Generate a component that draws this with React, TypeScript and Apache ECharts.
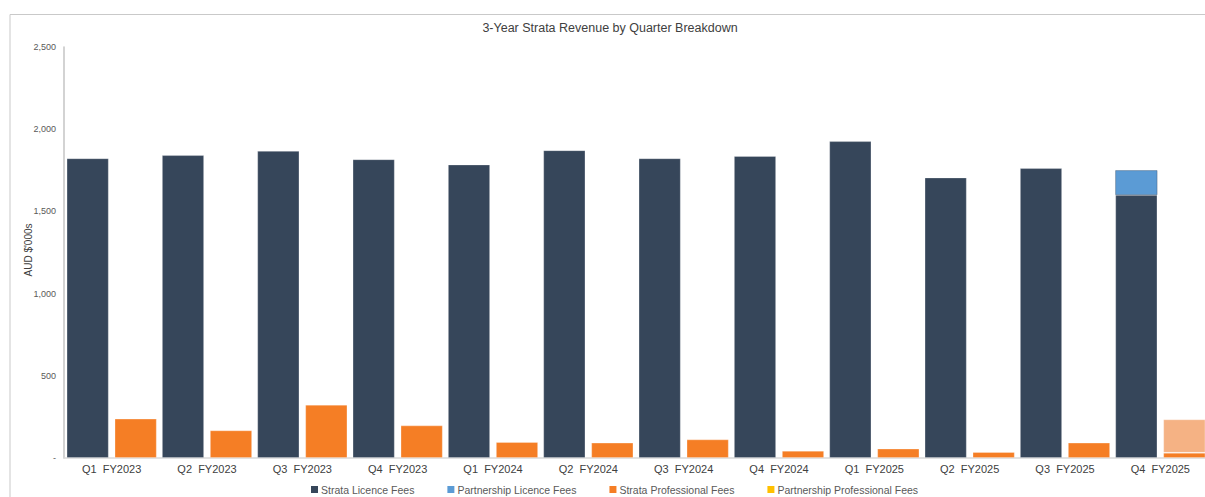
import React, { useEffect, useRef } from "react";
import * as echarts from "echarts";

const quarters = ["Q1", "Q2", "Q3", "Q4", "Q1", "Q2", "Q3", "Q4", "Q1", "Q2", "Q3", "Q4"];
const fiscalYears = ["FY2023", "FY2023", "FY2023", "FY2023", "FY2024", "FY2024", "FY2024", "FY2024", "FY2025", "FY2025", "FY2025", "FY2025"];
const categories = quarters.map((q, i) => `${q}  ${fiscalYears[i]}`);

const strataLicence = [1823, 1842, 1868, 1817, 1785, 1872, 1823, 1837, 1927, 1706, 1763, 1600];
const partnershipLicence = [null, null, null, null, null, null, null, null, null, null, null, 150];
const strataProfessional = [239, 168, 324, 198, 97, 93, 113, 44, 57, 36, 93, 32];
const partnershipProfessional = [null, null, null, null, null, null, null, null, null, null, null, 203];

const yTicks = [0, 500, 1000, 1500, 2000, 2500];

const fmt = (v: number) => (v === 0 ? "-" : v.toString().replace(/\B(?=(\d{3})+(?!\d))/g, ","));

export default function App() {
  const ref = useRef<HTMLDivElement>(null);
  useEffect(() => {
    if (!ref.current) return;
    const chart = echarts.init(ref.current, null, { renderer: "svg" });
    const border = { borderColor: "rgba(255,255,255,0.35)", borderWidth: 0.8 };
    chart.setOption({
      animation: false,
      textStyle: { fontFamily: "Liberation Sans, Arial, sans-serif" },
      graphic: [
        {
          type: "rect",
          shape: { x: 10, y: 14.5, width: 1400, height: 700 },
          style: { fill: "none", stroke: "#c9c9c9", lineWidth: 1 },
          silent: true,
        },
        {
          type: "text",
          x: 610,
          y: 28,
          style: {
            text: "3-Year Strata Revenue by Quarter Breakdown",
            fill: "#404040",
            font: "12.5px 'Liberation Sans', Arial, sans-serif",
            textAlign: "center",
            textVerticalAlign: "middle",
          },
        },
        {
          type: "text",
          x: 28,
          y: 250,
          rotation: Math.PI / 2,
          style: {
            text: "AUD $'000s",
            fill: "#404040",
            font: "10px 'Liberation Sans', Arial, sans-serif",
            textAlign: "center",
            textVerticalAlign: "middle",
          },
        },
      ],
      legend: {
        top: 484,
        left: 311,
        padding: 0,
        itemWidth: 7,
        itemHeight: 7,
        itemGap: 33,
        icon: "rect",
        itemStyle: { borderWidth: 0 },
        textStyle: { fontSize: 10.5, color: "#595959", padding: [0, 0, 0, -2] },
        data: ["Strata Licence Fees", "Partnership Licence Fees", "Strata Professional Fees", "Partnership Professional Fees"],
      },
      grid: { left: 64, top: 47, right: 32, bottom: 62 },
      xAxis: {
        type: "category",
        data: categories,
        axisLine: { show: true, lineStyle: { color: "#d9d9d9", width: 1.5 } },
        axisTick: { show: false },
        axisLabel: { color: "#404040", fontSize: 11, margin: 5, interval: 0 },
      },
      yAxis: {
        type: "value",
        min: 0,
        max: 2500,
        interval: 500,
        axisLine: { show: true, lineStyle: { color: "#c4c4c4", width: 1.5 } },
        axisTick: { show: false },
        splitLine: { show: false },
        axisLabel: {
          color: "#595959",
          fontSize: 9,
          margin: 8,
          formatter: (v: number) => (yTicks.includes(v) ? fmt(v) : ""),
        },
      },
      series: [
        {
          name: "Strata Licence Fees",
          type: "bar",
          stack: "lic",
          data: strataLicence,
          itemStyle: { color: "#36465a", ...border },
          barCategoryGap: "5.5%",
          barGap: "14%",
        },
        {
          name: "Partnership Licence Fees",
          type: "bar",
          stack: "lic",
          data: partnershipLicence,
          itemStyle: { color: "#5b9bd5", borderColor: "rgba(54,70,90,0.6)", borderWidth: 0.6 },
        },
        {
          name: "Strata Professional Fees",
          type: "bar",
          stack: "prof",
          data: strataProfessional,
          itemStyle: { color: "#f57e25", ...border },
        },
        {
          name: "Partnership Professional Fees",
          type: "bar",
          stack: "prof",
          data: partnershipProfessional.map((v) =>
            v == null ? null : { value: v, itemStyle: { color: "#f5b284" } }
          ),
          itemStyle: { color: "#ffc000", ...border },
          barCategoryGap: "5.5%",
          barGap: "14%",
        },
      ],
    });
    return () => chart.dispose();
  }, []);
  return (
    <div style={{ position: "fixed", left: 0, top: 0, width: 1205, height: 497, overflow: "hidden", background: "#fff" }}>
      <div ref={ref} style={{ position: "absolute", left: 0, top: 0, width: 1240, height: 520 }} />
    </div>
  );
}
